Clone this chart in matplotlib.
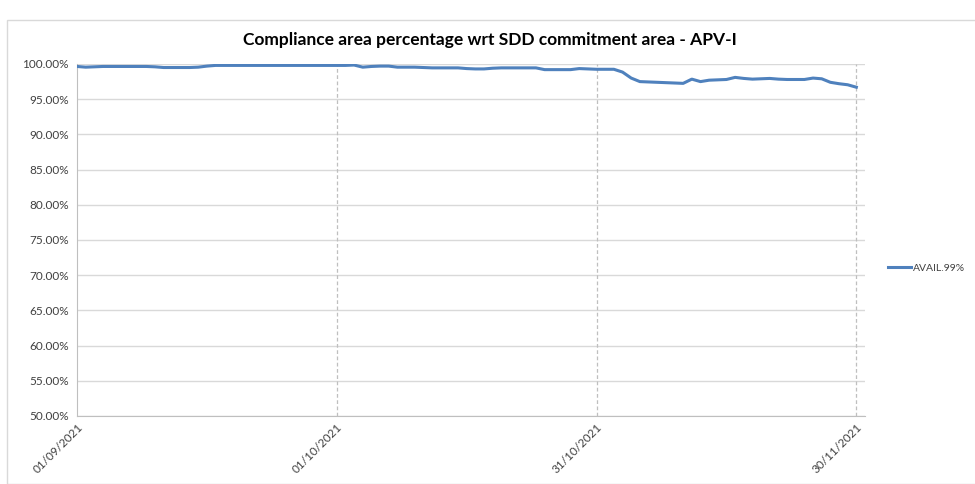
import matplotlib
matplotlib.use("Agg")
import matplotlib.pyplot as plt
import matplotlib.ticker as mticker
import pandas as pd
from matplotlib.patches import Rectangle

plt.rcParams['font.family'] = ['Lato', 'DejaVu Sans']

title = "Compliance area percentage wrt SDD commitment area - APV-I"
series_name = "AVAIL.99%"
start_date = "2021-09-01"
end_date = "2021-12-01"
tick_labels = ["01/09/2021", "01/10/2021", "31/10/2021", "30/11/2021"]

avail = [
    99.65, 99.55, 99.60, 99.65, 99.65, 99.65, 99.65, 99.65, 99.65, 99.60,
    99.50, 99.50, 99.50, 99.50, 99.55, 99.70, 99.80, 99.80, 99.80, 99.80,
    99.80, 99.80, 99.80, 99.80, 99.80, 99.80, 99.80, 99.80, 99.80, 99.80,
    99.80, 99.80, 99.85, 99.55, 99.65, 99.70, 99.70, 99.55, 99.55, 99.55,
    99.50, 99.45, 99.45, 99.45, 99.45, 99.35, 99.30, 99.30, 99.40, 99.45,
    99.45, 99.45, 99.45, 99.45, 99.20, 99.20, 99.20, 99.20, 99.35, 99.30,
    99.25, 99.25, 99.25, 98.85, 98.00, 97.50, 97.45, 97.40, 97.35, 97.30,
    97.25, 97.85, 97.50, 97.70, 97.75, 97.80, 98.10, 97.95, 97.85, 97.90,
    97.95, 97.85, 97.80, 97.80, 97.80, 98.00, 97.90, 97.40, 97.20, 97.05,
    96.70,
]

dates = pd.date_range(start_date, periods=len(avail), freq="D")
tick_dates = pd.to_datetime(tick_labels, format="%d/%m/%Y")

fig = plt.figure(figsize=(9.75, 4.84), dpi=100)
ax = fig.add_axes([77/975, 1-416/484, (865-77)/975, (416-64)/484])

# chart border
fig.patches.append(Rectangle((7/975, 0), 1.0, 1-20/484, transform=fig.transFigure,
                             fill=False, edgecolor="#d9d9d9", linewidth=1.0))

line_col = "#4f81bd"
ax.plot(dates, [v/100 for v in avail], color=line_col, linewidth=2.2,
        solid_joinstyle="round", label=series_name, zorder=3)

ax.set_ylim(0.5, 1.0)
ax.set_xlim(pd.Timestamp(start_date), pd.Timestamp(end_date))
ax.yaxis.set_major_locator(mticker.MultipleLocator(0.05))
ax.yaxis.set_major_formatter(mticker.FuncFormatter(lambda v, p: f"{v*100:.2f}%"))
ax.set_xticks(tick_dates)
ax.set_xticklabels(tick_labels, rotation=45, ha="right", va="top",
                   rotation_mode="anchor")

ax.grid(axis="y", color="#d9d9d9", linewidth=1.0, linestyle="-")
for d in tick_dates[1:]:
    ax.axvline(d, color="#bfbfbf", linewidth=0.9, linestyle=(0, (3, 2)), zorder=1)
ax.set_axisbelow(True)

for s in ["top", "right"]:
    ax.spines[s].set_visible(False)
ax.spines["left"].set_color("#bfbfbf")
ax.spines["bottom"].set_color("#bfbfbf")
ax.tick_params(axis="both", length=0, labelsize=8.5, colors="#404040")
ax.tick_params(axis="y", pad=6)
ax.tick_params(axis="x", pad=4)

fig.text((230+750)/2/975, 1-40/484, title, ha="center", va="center",
         fontsize=12.5, fontweight="bold", color="#000000")

fig.legend(loc="center left", bbox_to_anchor=(888/975, 1-268/484), frameon=False,
           fontsize=7.5, handlelength=2.2, handletextpad=0.15, borderpad=0,
           borderaxespad=0, labelcolor="#404040")

fig.savefig("out.png", dpi=100)
